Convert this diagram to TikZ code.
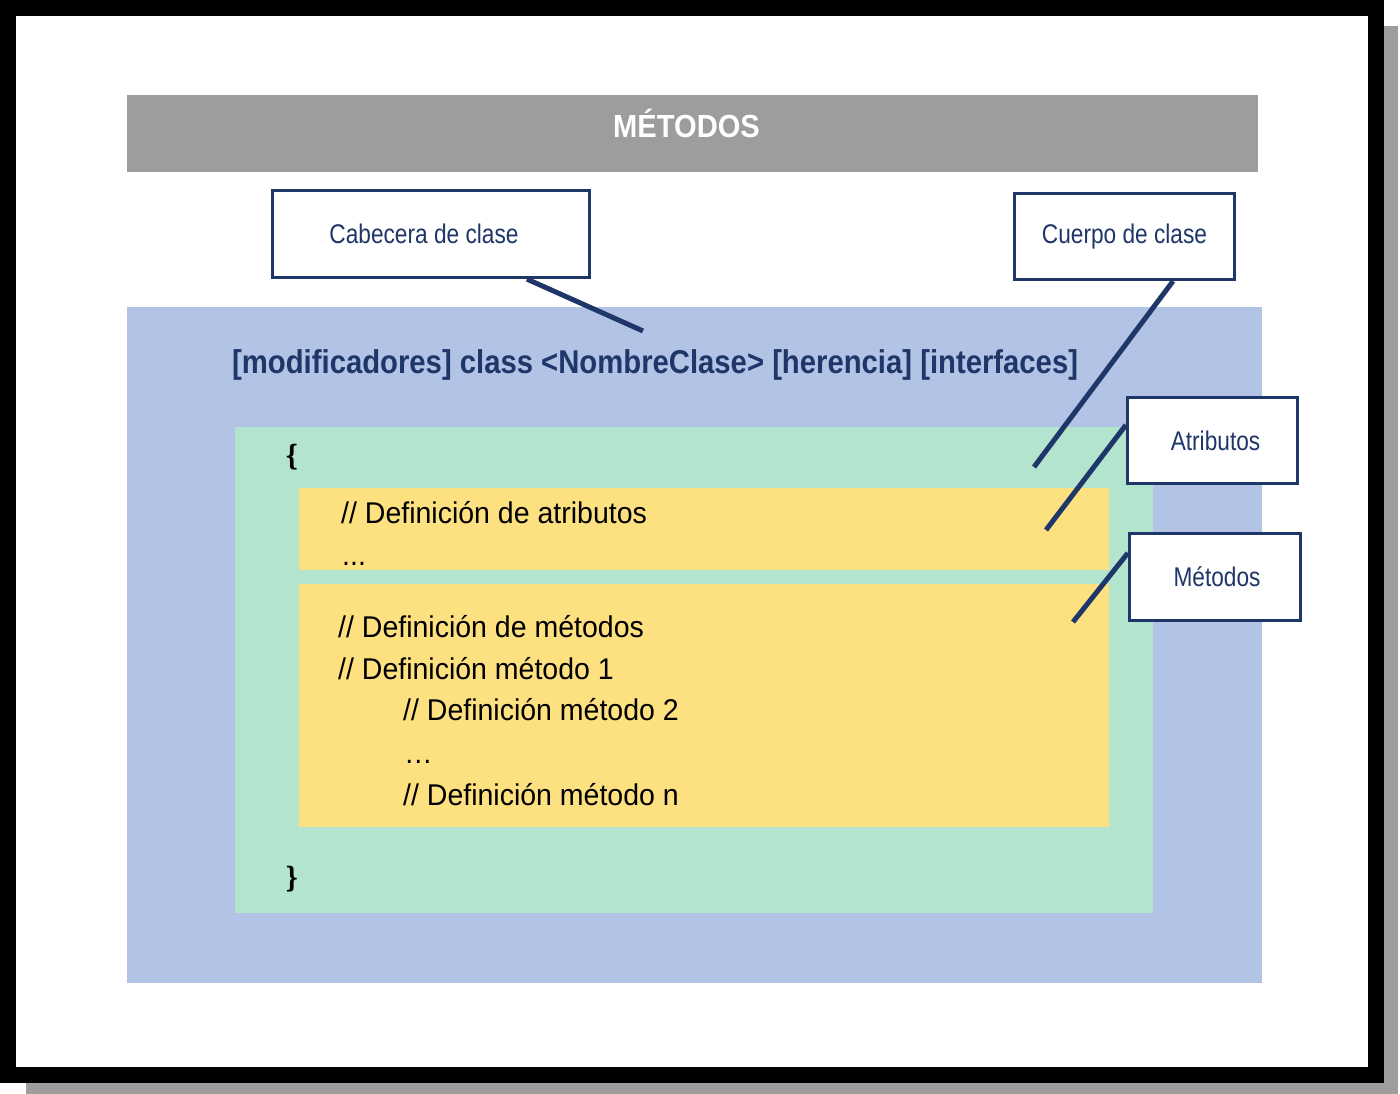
\documentclass[tikz,border=0pt]{standalone}
\usepackage{fontspec}
\setmainfont{Liberation Sans}
\newfontfamily\bracefont{DejaVu Serif}
\usetikzlibrary{calc}
\definecolor{navy}{RGB}{31,54,104}
\definecolor{bargray}{RGB}{158,156,156}
\definecolor{regblue}{RGB}{179,195,230}
\definecolor{reggreen}{RGB}{179,228,206}
\definecolor{regyellow}{RGB}{253,224,127}
\pgfdeclarelayer{back}
\pgfdeclarelayer{mid}
\pgfsetlayers{back,mid,main}
\begin{document}
\begin{tikzpicture}[x=1pt,y=-1pt,
  callout/.style={draw=navy, line width=3.3pt, fill=white, inner sep=0pt, text=navy,
    font=\fontsize{27}{32}\selectfont},
  leader/.style={draw=navy, line width=5pt},
  codeline/.style={anchor=base west, inner sep=0pt, text=black,
    font=\fontsize{30}{34}\selectfont},
  bracetext/.style={anchor=base west, inner sep=0pt, text=black,
    font=\fontsize{28}{34}\selectfont\bracefont\bfseries}]
\useasboundingbox (0,0) rectangle (1400,1094);

\begin{pgfonlayer}{back}
  % frame with shadow
  \fill[bargray] (26,26) rectangle (1398,1094);
  \fill[black] (0,0) rectangle (1384,1083);
  \fill[white] (16,16) rectangle (1368,1067);
  % title bar
  \fill[bargray] (127,95) rectangle (1258,172);
  % nested regions
  \fill[regblue] (127,307) rectangle (1262,983);
  \fill[reggreen] (235,427) rectangle (1153,913);
  \fill[regyellow] (299,488) rectangle (1109,570);
  \fill[regyellow] (299,584) rectangle (1109,827);
\end{pgfonlayer}

% title
\node[anchor=base, inner sep=0pt, text=white, font=\fontsize{32}{36}\selectfont\bfseries]
  (title) at (686.5,138) {\scalebox{0.91}[1]{MÉTODOS}};

% class header
\node[anchor=base west, inner sep=0pt, text=navy, font=\fontsize{33}{38}\selectfont\bfseries]
  (header) at (232,373) {\scalebox{0.887}[1]{[modificadores] class <NombreClase> [herencia] [interfaces]}};

% braces
\node[bracetext] (open) at (285,465) {\scalebox{0.75}[1]{\{}};
\node[bracetext] (close) at (285,887) {\scalebox{0.75}[1]{\}}};

% attribute block
\node[codeline] (a1) at (341,523) {\scalebox{0.95}[1]{// Definición de atributos}};
\node[codeline] (a2) at (342,565) {\scalebox{0.95}[1]{...}};

% method block
\node[codeline] (m1) at (338,637) {\scalebox{0.95}[1]{// Definición de métodos}};
\node[codeline] (m2) at (338,679) {\scalebox{0.95}[1]{// Definición método 1}};
\node[codeline] (m3) at (403,720) {\scalebox{0.95}[1]{// Definición método 2}};
\node[codeline] (m4) at (404,763) {\scalebox{0.95}[1]{…}};
\node[codeline] (m5) at (403,805) {\scalebox{0.95}[1]{// Definición método n}};

% callout boxes
\node[callout, minimum width=317pt, minimum height=87pt] (cab) at (431,234)
  {\hspace*{-14pt}\scalebox{0.84}[1]{Cabecera de clase}};
\node[callout, minimum width=220pt, minimum height=86pt] (cue) at (1124.5,236.5)
  {\scalebox{0.84}[1]{Cuerpo de clase}};
\node[callout, minimum width=170pt, minimum height=86pt] (atr) at (1212.5,440.5)
  {\hspace*{6pt}\scalebox{0.84}[1]{Atributos}};
\node[callout, minimum width=171pt, minimum height=87pt] (met) at (1215,577)
  {\hspace*{4pt}\scalebox{0.84}[1]{Métodos}};

% free ends of the leaders
\coordinate (cabEnd) at (643,331);
\coordinate (cueEnd) at (1034,467);
\coordinate (atrEnd) at (1046,530);
\coordinate (metEnd) at (1073,622);

\begin{pgfonlayer}{mid}
  \draw[leader] ([xshift=96pt]cab.south) -- (cabEnd);
  \draw[leader] ([xshift=48.5pt]cue.south) -- (cueEnd);
  \draw[leader] ([yshift=15.5pt]atr.west) -- (atrEnd);
  \draw[leader] ([yshift=24pt]met.west) -- (metEnd);
\end{pgfonlayer}
\end{tikzpicture}
\end{document}
